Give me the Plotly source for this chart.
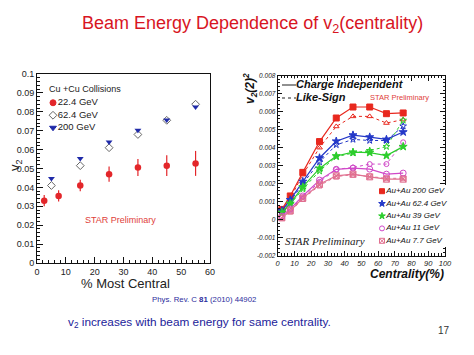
import plotly.graph_objects as go

# ---------------- data: left panel (Cu+Cu) ----------------
cent_22 = [2.5, 7.5, 15, 25, 35, 45, 55]
v2_22 = [0.033, 0.0355, 0.041, 0.047, 0.0505, 0.0515, 0.0527]
err_22 = [0.003, 0.003, 0.003, 0.004, 0.0045, 0.0055, 0.0066]
cent_cu = [5, 15, 25, 35, 45, 55]
v2_62 = [0.041, 0.0515, 0.061, 0.068, 0.0755, 0.084]
v2_200 = [0.0447, 0.0553, 0.064, 0.0703, 0.0757, 0.0825]
cu_labels = ["22.4 GeV", "62.4 GeV", "200 GeV"]
cu_rows = [0, 1, 2]

# ---------------- data: right panel (Au+Au) ----------------
cent_au = [2.5, 7.5, 15, 25, 35, 45, 55, 65, 75]
ci_200 = [0.00057, 0.00132, 0.00263, 0.00434, 0.00565, 0.00626, 0.00626, 0.00589, 0.00593]
ls_200 = [0.0005, 0.0012, 0.0025, 0.0040, 0.00518, 0.00574, 0.00574, 0.00537, 0.00556]
ci_62 = [0.0005, 0.0011, 0.00212, 0.00343, 0.00436, 0.0047, 0.00459, 0.00446, 0.00487]
ls_62 = [0.00045, 0.001, 0.002, 0.0032, 0.00416, 0.00446, 0.0044, 0.0044, 0.0052]
ci_39 = [0.0004, 0.0009, 0.00182, 0.00285, 0.00354, 0.00375, 0.00373, 0.00356, 0.00406]
ls_39 = [0.00035, 0.00085, 0.0017, 0.0027, 0.0035, 0.0037, 0.00384, 0.00406, 0.00552]
ci_11 = [0.0002, 0.0006, 0.00132, 0.0022, 0.0028, 0.00287, 0.00281, 0.00253, 0.00259]
ls_11 = [0.00018, 0.00055, 0.00125, 0.0021, 0.0028, 0.0029, 0.00309, 0.00309, 0.0043]
ci_77 = [0.0001, 0.0005, 0.0012, 0.00197, 0.00244, 0.00253, 0.00238, 0.00225, 0.00225]
ls_77 = [0.0001, 0.00045, 0.00115, 0.0019, 0.0024, 0.0025, 0.0024, 0.0023, 0.0023]
au_labels = ["Au+Au 200 GeV", "Au+Au 62.4 GeV", "Au+Au 39 GeV", "Au+Au 11 GeV", "Au+Au 7.7 GeV"]
au_rows = [0, 1, 2, 3, 4]
style_labels = ["Charge Independent", "Like-Sign"]
style_dashes = ["solid", "dot"]
style_rows = [0, 1]

left_yticks = [0, 0.01, 0.02, 0.03, 0.04, 0.05, 0.06, 0.07, 0.08, 0.09, 0.1]
left_yticktext = ["0", "0.01", "0.02", "0.03", "0.04", "0.05", "0.06", "0.07", "0.08", "0.09", "0.1"]
right_yticks = [-0.002, -0.001, 0, 0.001, 0.002, 0.003, 0.004, 0.005, 0.006, 0.007, 0.008]
right_yticktext = ["-0.002", "-0.001", "0", "0.001", "0.002", "0.003", "0.004", "0.005", "0.006", "0.007", "0.008"]

# page body has an 8px margin: figure occupies the window minus that margin
OFF = 8
W, H = 474 - OFF, 355 - OFF
def px(x):
    return (x - OFF) / W
def py(y):
    return 1 - (y - OFF) / H

SANS = "Liberation Sans Narrow, Liberation Sans, Arial, sans-serif"
BODY = "Liberation Sans, Arial, sans-serif"

fig = go.Figure()

# ---- left panel traces ----
fig.add_trace(go.Scatter(
    x=cent_22, y=v2_22, mode="markers", showlegend=False,
    marker=dict(symbol="circle", size=6.5, color="#e3262a"),
    error_y=dict(type="data", array=err_22, color="#e3262a", thickness=1.2, width=0),
    xaxis="x", yaxis="y"))
fig.add_trace(go.Scatter(
    x=cent_cu, y=v2_62, mode="markers", showlegend=False,
    marker=dict(symbol="diamond-open", size=6, color="#666666", line=dict(width=1)),
    xaxis="x", yaxis="y"))
fig.add_trace(go.Scatter(
    x=cent_cu, y=v2_200, mode="markers", showlegend=False,
    marker=dict(symbol="triangle-down", size=6, color="#1f2aa8"),
    xaxis="x", yaxis="y"))

# left key (row-indexed overlay)
cu_syms = ["circle", "diamond-open", "triangle-down"]
cu_cols = ["#e3262a", "#666666", "#1f2aa8"]
fig.add_trace(go.Scatter(
    x=[0] * len(cu_rows), y=cu_rows, mode="markers+text", showlegend=False,
    text=cu_labels, textposition="middle right",
    textfont=dict(family=SANS, size=9.5, color="#222222"),
    marker=dict(symbol=cu_syms, size=6, color=cu_cols, line=dict(width=1, color=cu_cols)),
    hoverinfo="skip", xaxis="x5", yaxis="y5", cliponaxis=False))

# ---- right panel traces ----
au_series = [
    (ci_200, ls_200, "#e8281e", "square", "triangle-up-open"),
    (ci_62, ls_62, "#2438c8", "star", "star-open"),
    (ci_39, ls_39, "#2ccd2c", "star", "star-open"),
    (ci_11, ls_11, "#d048c8", "circle-open", "circle-open"),
    (ci_77, ls_77, "#e07090", "square-x-open", "square-x-open"),
]
for ci, ls, col, sym, sym2 in au_series:
    fig.add_trace(go.Scatter(
        x=cent_au, y=ls, mode="lines+markers", showlegend=False,
        line=dict(color=col, width=1, dash="dot"),
        marker=dict(symbol=sym2, size=5, color=col, line=dict(width=1, color=col)),
        xaxis="x2", yaxis="y2"))
for ci, ls, col, sym, sym2 in au_series:
    fig.add_trace(go.Scatter(
        x=cent_au, y=ci, mode="lines+markers", showlegend=False,
        line=dict(color=col, width=1.2),
        marker=dict(symbol=sym, size=6, color=col, line=dict(width=1, color=col)),
        xaxis="x2", yaxis="y2"))

# line-style key (row-indexed overlay)
for row, dash in zip(style_rows, style_dashes):
    fig.add_trace(go.Scatter(
        x=[0, 1], y=[row, row], mode="lines", showlegend=False,
        line=dict(color="#222222", width=1.2, dash=dash),
        hoverinfo="skip", xaxis="x4", yaxis="y4", cliponaxis=False))
fig.add_trace(go.Scatter(
    x=[1] * len(style_rows), y=style_rows, mode="text", showlegend=False,
    text=style_labels, textposition="middle right",
    textfont=dict(family=SANS, size=11, color="#111111", weight="bold", style="italic"),
    hoverinfo="skip", xaxis="x4", yaxis="y4", cliponaxis=False))

# energy key (row-indexed overlay)
fig.add_trace(go.Scatter(
    x=[0] * len(au_rows), y=au_rows, mode="markers+text", showlegend=False,
    text=au_labels, textposition="middle right",
    textfont=dict(family=SANS, size=8, color="#111111", style="italic"),
    marker=dict(symbol=[s[3] for s in au_series], size=5,
                color=[s[2] for s in au_series],
                line=dict(width=1, color=[s[2] for s in au_series])),
    hoverinfo="skip", xaxis="x3", yaxis="y3", cliponaxis=False))

axis_common = dict(showgrid=False, zeroline=False, showline=True, linecolor="#111111",
                   linewidth=1, ticks="inside", tickcolor="#111111")

fig.update_layout(
    width=W, height=H, template="none",
    paper_bgcolor="white", plot_bgcolor="white",
    margin=dict(l=0, r=0, t=0, b=0),
    showlegend=False,
    xaxis=dict(domain=[px(37), px(210)], range=[0, 60], dtick=10, ticklen=6,
               mirror=True, anchor="y",
               minor=dict(ticks="inside", ticklen=3, dtick=2, tickcolor="#111111"),
               tickfont=dict(family=SANS, size=9, color="#222222"), **axis_common),
    yaxis=dict(domain=[py(263), py(74)], range=[0, 0.1], tickvals=left_yticks,
               ticktext=left_yticktext, ticklen=6, mirror=True, anchor="x",
               minor=dict(ticks="inside", ticklen=3, dtick=0.002, tickcolor="#111111"),
               tickfont=dict(family=SANS, size=9, color="#222222"), **axis_common),
    xaxis2=dict(domain=[px(277.7), px(445)], range=[0, 100], dtick=10, ticklen=5,
                mirror="ticks", anchor="y2",
                minor=dict(ticks="inside", ticklen=2.5, dtick=2, tickcolor="#111111"),
                tickfont=dict(family=SANS, size=7.5, color="#222222", style="italic"),
                **axis_common),
    yaxis2=dict(domain=[py(255.7), py(75.7)], range=[-0.002, 0.008], tickvals=right_yticks,
                ticktext=right_yticktext, ticklen=5, mirror="ticks", anchor="x2",
                minor=dict(ticks="inside", ticklen=2.5, dtick=0.0002, tickcolor="#111111"),
                tickfont=dict(family=SANS, size=6.5, color="#222222", style="italic"),
                **axis_common),
    xaxis3=dict(domain=[px(382), px(466)], range=[0, 1], visible=False, anchor="y3"),
    yaxis3=dict(domain=[py(247), py(185)], range=[4.5, -0.5], visible=False, anchor="x3"),
    xaxis4=dict(domain=[px(282), px(296)], range=[0, 1], visible=False, anchor="y4"),
    yaxis4=dict(domain=[py(104.5), py(78.5)], range=[1.5, -0.5], visible=False, anchor="x4"),
    xaxis5=dict(domain=[px(53), px(120)], range=[0, 1], visible=False, anchor="y5"),
    yaxis5=dict(domain=[py(134), py(96.5)], range=[2.5, -0.5], visible=False, anchor="x5"),
)

def note(text, x, y, font, xanchor="center", angle=0):
    return dict(text=text, x=px(x), y=py(y), xref="paper", yref="paper",
                xanchor=xanchor, yanchor="middle", showarrow=False,
                textangle=angle, font=font)

ann = [
    note("Beam Energy Dependence of v<sub>2</sub>(centrality)", 252, 24,
         dict(family=BODY, size=18, color="#d8151f")),
    note("Cu +Cu Collisions", 47, 89, dict(family=SANS, size=9, color="#222222"), xanchor="left"),
    note("v<sub>2</sub>", 16, 165, dict(family=SANS, size=13, color="#222222"), angle=-90),
    note("% Most Central", 125, 283, dict(family=SANS, size=13, color="#222222")),
    note("STAR Preliminary", 120, 220, dict(family=SANS, size=9, color="#e0403a")),
    note("STAR Preliminary", 399, 97, dict(family=SANS, size=7.5, color="#e0403a")),
    note("STAR Preliminary", 325, 241,
         dict(family="Liberation Serif, Times New Roman, serif", size=11, color="#222222",
              style="italic")),
    note("Centrality(%)", 446, 274,
         dict(family=SANS, size=12, color="#111111", weight="bold", style="italic"),
         xanchor="right"),
    note("v<sub>2</sub>(2)<sup>2</sup>", 250, 88,
         dict(family=SANS, size=12, color="#111111", weight="bold", style="italic"), angle=-90),
    note("Phys. Rev. C <b>81</b> (2010) 44902", 150, 299,
         dict(family=SANS, size=7.8, color="#2c2c9c"), xanchor="left"),
    note("v<sub>2</sub> increases with beam energy for same centrality.", 66, 322,
         dict(family=BODY, size=11.8, color="#22229a"), xanchor="left"),
    note("17", 444, 330, dict(family=BODY, size=10, color="#333333")),
]
fig.update_layout(annotations=ann)

fig.write_html("out.html")
